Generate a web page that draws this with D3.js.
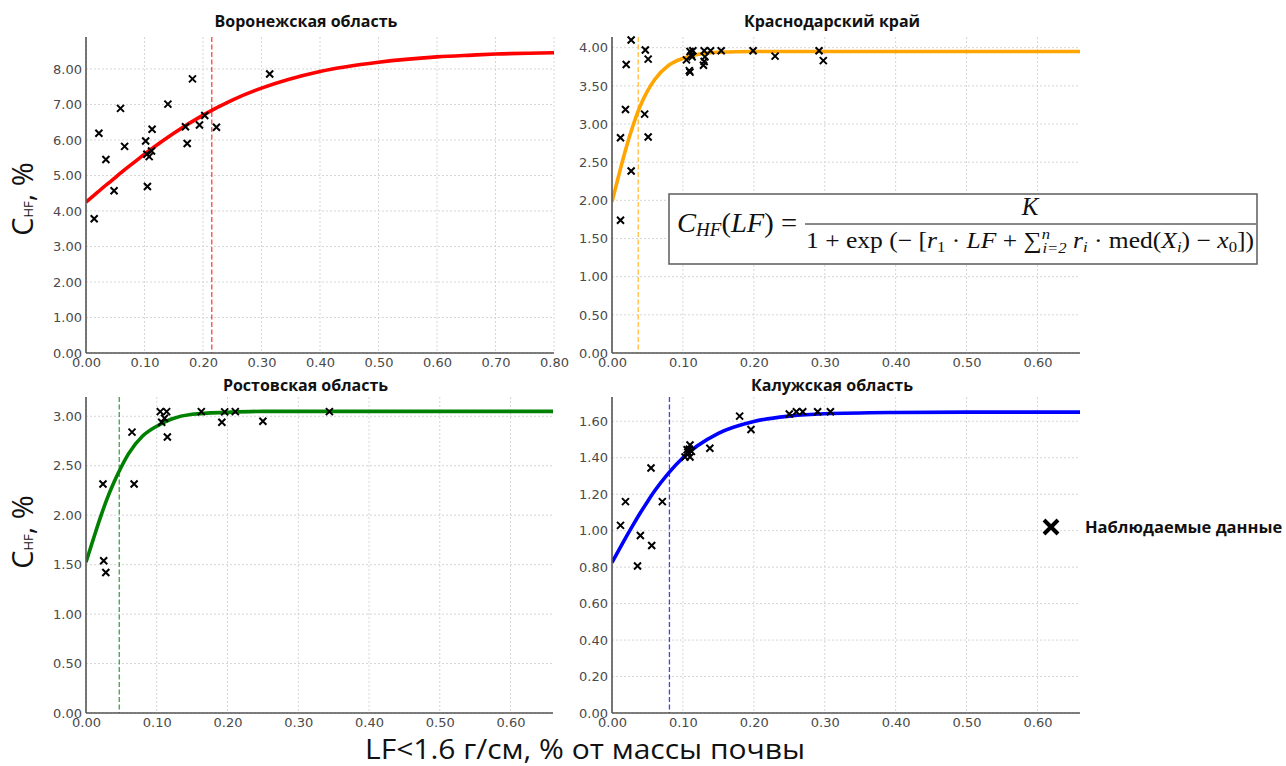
<!DOCTYPE html>
<html>
<head>
<meta charset="utf-8">
<script src="https://cdn.jsdelivr.net/npm/d3@7"></script>
<style>
  body { margin: 0; background: #fff; }
  svg { display: block; }
  .tick text { font-family: "DejaVu Sans", sans-serif; font-size: 13px; fill: #4a4a4a; }
  .title { font-family: "Open Sans", sans-serif; font-weight: bold; font-size: 16px; fill: #111; }
</style>
</head>
<body>
<svg id="chart" width="1286" height="766"></svg>
<script>
// panel titles
const titles = ["Воронежская область", "Краснодарский край", "Ростовская область", "Калужская область"]

// observed points (LF, C_HF)
const vorLF = [0.014, 0.022, 0.034, 0.048, 0.059, 0.066, 0.102, 0.105, 0.104, 0.108, 0.112, 0.113, 0.140, 0.170, 0.173, 0.182, 0.194, 0.203, 0.223, 0.314]
const vorC = [3.78, 6.19, 5.45, 4.57, 6.89, 5.82, 5.97, 4.69, 5.60, 5.53, 5.69, 6.30, 7.01, 6.37, 5.90, 7.72, 6.42, 6.69, 6.36, 7.86]

const krasLF = [0.027, 0.020, 0.019, 0.012, 0.027, 0.012, 0.047, 0.051, 0.046, 0.051, 0.105, 0.109, 0.110, 0.110, 0.114, 0.112, 0.113, 0.130, 0.131, 0.130, 0.129, 0.139, 0.154, 0.199, 0.230, 0.292, 0.298]
const krasC = [4.10, 3.78, 3.19, 2.82, 2.385, 1.74, 3.97, 3.85, 3.13, 2.83, 3.84, 3.70, 3.68, 3.95, 3.96, 3.90, 3.88, 3.96, 3.88, 3.82, 3.77, 3.96, 3.96, 3.96, 3.89, 3.96, 3.83]

const rosLF = [0.024, 0.025, 0.028, 0.065, 0.068, 0.105, 0.107, 0.114, 0.111, 0.115, 0.163, 0.192, 0.196, 0.211, 0.250, 0.344]
const rosC = [2.315, 1.54, 1.42, 2.84, 2.315, 3.047, 2.94, 3.047, 2.98, 2.79, 3.047, 2.94, 3.045, 3.047, 2.95, 3.047]

const kalLF = [0.012, 0.019, 0.040, 0.036, 0.055, 0.056, 0.071, 0.103, 0.106, 0.110, 0.110, 0.112, 0.109, 0.107, 0.138, 0.180, 0.196, 0.250, 0.260, 0.269, 0.290, 0.308]
const kalC = [1.029, 1.159, 0.973, 0.806, 1.344, 0.919, 1.159, 1.404, 1.444, 1.47, 1.404, 1.435, 1.447, 1.43, 1.452, 1.628, 1.555, 1.64, 1.652, 1.652, 1.652, 1.652]

// fitted curves at these LF values
const curveLF = [0, 0.01, 0.02, 0.03, 0.04, 0.05, 0.06, 0.08, 0.10, 0.12, 0.15, 0.20, 0.25, 0.30, 0.40, 0.50, 0.60, 0.66, 0.70, 0.80]
const vorFit = [4.25, 4.39, 4.53, 4.67, 4.805, 4.94, 5.08, 5.34, 5.60, 5.845, 6.19, 6.70, 7.125, 7.46, 7.93, 8.19, 8.34, 8.39, 8.42, 8.455]
const krasFit = [1.98, 2.345, 2.69, 2.99, 3.24, 3.43, 3.58, 3.77, 3.86, 3.91, 3.94, 3.95, 3.95, 3.95, 3.95, 3.95, 3.95, 3.95, 3.95, 3.95]
const rosFit = [1.525, 1.75, 1.97, 2.17, 2.34, 2.49, 2.62, 2.80, 2.90, 2.97, 3.02, 3.04, 3.05, 3.05, 3.05, 3.05, 3.05, 3.05, 3.05, 3.05]
const kalFit = [0.825, 0.896, 0.966, 1.033, 1.098, 1.159, 1.217, 1.317, 1.40, 1.464, 1.534, 1.599, 1.628, 1.641, 1.648, 1.65, 1.65, 1.65, 1.65, 1.65]

// dashed threshold lines
const thresholds = [0.215, 0.037, 0.047, 0.081]

// tick labels
const xTicksWide = [0, 0.1, 0.2, 0.3, 0.4, 0.5, 0.6, 0.7, 0.8]
const xTicks = [0, 0.1, 0.2, 0.3, 0.4, 0.5, 0.6]
const vorTicks = [0, 1, 2, 3, 4, 5, 6, 7, 8]
const krasTicks = [0, 0.5, 1, 1.5, 2, 2.5, 3, 3.5, 4]
const rosTicks = [0, 0.5, 1, 1.5, 2, 2.5, 3]
const kalTicks = [0, 0.2, 0.4, 0.6, 0.8, 1.0, 1.2, 1.4, 1.6]

const colors = ["#ff0000", "#ffa500", "#008000", "#0000ff"]

const panels = [
  { title: titles[0], lf: vorLF, c: vorC, fit: vorFit, xTicks: xTicksWide, yTicks: vorTicks, xMax: 0.8, yMax: 8.9 },
  { title: titles[1], lf: krasLF, c: krasC, fit: krasFit, xTicks: xTicks, yTicks: krasTicks, xMax: 0.66, yMax: 4.14 },
  { title: titles[2], lf: rosLF, c: rosC, fit: rosFit, xTicks: xTicks, yTicks: rosTicks, xMax: 0.66, yMax: 3.195 },
  { title: titles[3], lf: kalLF, c: kalC, fit: kalFit, xTicks: xTicks, yTicks: kalTicks, xMax: 0.66, yMax: 1.733 }
]

const boxes = [
  { left: 86, top: 37, right: 554, bottom: 353, titleY: 27 },
  { left: 612, top: 37, right: 1080, bottom: 353, titleY: 27 },
  { left: 86, top: 397, right: 553, bottom: 713, titleY: 391 },
  { left: 612, top: 397, right: 1080, bottom: 713, titleY: 391 }
]

const svg = d3.select("#chart")
svg.append("rect").attr("width", 1286).attr("height", 766).attr("fill", "#fff")

const cross = "M-3.5,-3.5L3.5,3.5M-3.5,3.5L3.5,-3.5"

/**
 * drawPanel()
 * @description draws one region subplot
 */
function drawPanel(p, box, i) {
  const x = d3.scaleLinear().domain([0, p.xMax]).range([box.left, box.right])
  const y = d3.scaleLinear().domain([0, p.yMax]).range([box.bottom, box.top])
  const g = svg.append("g")

  // grid
  g.append("g").selectAll("line").data(p.xTicks).join("line")
    .attr("x1", d => x(d)).attr("x2", d => x(d))
    .attr("y1", box.top).attr("y2", box.bottom)
    .attr("stroke", "#d6d6d6").attr("stroke-dasharray", "2,2")
  g.append("g").selectAll("line").data(p.yTicks).join("line")
    .attr("x1", box.left).attr("x2", box.right)
    .attr("y1", d => y(d)).attr("y2", d => y(d))
    .attr("stroke", "#d6d6d6").attr("stroke-dasharray", "2,2")

  const clipId = "clip" + i
  g.append("clipPath").attr("id", clipId).append("rect")
    .attr("x", box.left).attr("y", box.top)
    .attr("width", box.right - box.left).attr("height", box.bottom - box.top)

  // threshold
  g.append("line")
    .attr("x1", x(thresholds[i])).attr("x2", x(thresholds[i]))
    .attr("y1", box.top).attr("y2", box.bottom)
    .attr("stroke", colors[i]).attr("stroke-opacity", 0.75).attr("stroke-width", 1.3)
    .attr("stroke-dasharray", "5,2.5")

  // fitted curve
  const line = d3.line().x((d, j) => x(curveLF[j])).y(d => y(d)).curve(d3.curveMonotoneX)
  g.append("path").datum(p.fit)
    .attr("clip-path", `url(#${clipId})`)
    .attr("d", line)
    .attr("fill", "none").attr("stroke", colors[i]).attr("stroke-width", 3.6)

  // observed points
  g.append("g").selectAll("path").data(p.lf).join("path")
    .attr("transform", (d, j) => `translate(${x(d)},${y(p.c[j])})`)
    .attr("d", cross).attr("stroke", "#000").attr("stroke-width", 2)

  // axes
  const ax = g.append("g").attr("transform", `translate(0,${box.bottom})`)
    .call(d3.axisBottom(x).tickValues(p.xTicks).tickFormat(d3.format(".2f")).tickSize(0).tickPadding(5))
  const ay = g.append("g").attr("transform", `translate(${box.left},0)`)
    .call(d3.axisLeft(y).tickValues(p.yTicks).tickFormat(d3.format(".2f")).tickSize(0).tickPadding(4))
  ay.select(".domain").attr("d", `M0,${box.bottom}V${box.top}`)
  ax.select(".domain").attr("d", `M${box.left},0H${box.right}`)
  g.selectAll(".domain").attr("stroke", "#555").attr("stroke-width", 1.6)

  g.append("text").attr("class", "title")
    .attr("x", (box.left + box.right) / 2 - 14).attr("y", box.titleY)
    .attr("text-anchor", "middle").text(p.title)
}

panels.forEach((p, i) => drawPanel(p, boxes[i], i))

// y axis labels
;[199, 532].forEach(cy => {
  const t = svg.append("text")
    .attr("transform", `translate(33,${cy}) rotate(-90)`)
    .attr("text-anchor", "middle")
    .style("font-family", "'Open Sans', sans-serif").style("font-size", "29px").attr("fill", "#111")
  t.append("tspan").text("C")
  t.append("tspan").style("font-size", "13px").text("HF")
  t.append("tspan").text(", %")
})

// x axis label
svg.append("text")
  .attr("x", 585).attr("y", 759).attr("text-anchor", "middle")
  .style("font-family", "'Open Sans', sans-serif").style("font-size", "27px").attr("fill", "#111")
  .attr("textLength", 440).attr("lengthAdjust", "spacingAndGlyphs")
  .text("LF<1.6 г/см, % от массы почвы")

// legend
svg.append("path").attr("transform", "translate(1051,527)")
  .attr("d", "M-7,-7L7,7M-7,7L7,-7").attr("stroke", "#000").attr("stroke-width", 4)
svg.append("text").attr("x", 1085).attr("y", 533)
  .style("font-family", "'Open Sans', sans-serif").style("font-weight", "bold").style("font-size", "16.5px")
  .attr("fill", "#111").text("Наблюдаемые данные")

// formula box
const fg = svg.append("g").style("font-family", "'Liberation Serif', 'DejaVu Serif', serif").attr("fill", "#111")
fg.append("rect").attr("x", 669).attr("y", 194).attr("width", 588).attr("height", 70)
  .attr("fill", "#fff").attr("stroke", "#666").attr("stroke-width", 1.6)

const lhs = fg.append("text").attr("x", 677).attr("y", 232).style("font-size", "27px")
  .attr("textLength", 120).attr("lengthAdjust", "spacingAndGlyphs")
lhs.append("tspan").style("font-style", "italic").text("C")
lhs.append("tspan").style("font-style", "italic").style("font-size", "18px").attr("dy", 4).text("HF")
lhs.append("tspan").attr("dy", -4).text("(")
lhs.append("tspan").style("font-style", "italic").text("LF")
lhs.append("tspan").text(") =")

fg.append("line").attr("x1", 805).attr("x2", 1256).attr("y1", 224).attr("y2", 224)
  .attr("stroke", "#111").attr("stroke-width", 1)
fg.append("text").attr("x", 1030).attr("y", 215).attr("text-anchor", "middle")
  .style("font-size", "25px").style("font-style", "italic").text("K")

const den = fg.append("text").attr("x", 806).attr("y", 248).style("font-size", "23px")
  .attr("textLength", 448).attr("lengthAdjust", "spacingAndGlyphs")
const part = (txt, opt = {}) => {
  const s = den.append("tspan").text(txt)
  if (opt.it) s.style("font-style", "italic")
  if (opt.small) s.style("font-size", "15px")
  if (opt.dy) s.attr("dy", opt.dy)
  if (opt.dx) s.attr("dx", opt.dx)
  return s
}
part("1 + exp (− [")
part("r", { it: 1 })
part("1", { small: 1, dy: 4 })
part(" · ", { dy: -4 })
part("LF", { it: 1 })
part(" + ∑")
part("n", { it: 1, small: 1, dy: -9 })
part("i=2", { it: 1, small: 1, dy: 14, dx: -7 })
part(" r", { it: 1, dy: -5 })
part("i", { it: 1, small: 1, dy: 4 })
part(" · med(", { dy: -4 })
part("X", { it: 1 })
part("i", { it: 1, small: 1, dy: 4 })
part(") − ", { dy: -4 })
part("x", { it: 1 })
part("0", { small: 1, dy: 4 })
part("])", { dy: -4 })
</script>
</body>
</html>
